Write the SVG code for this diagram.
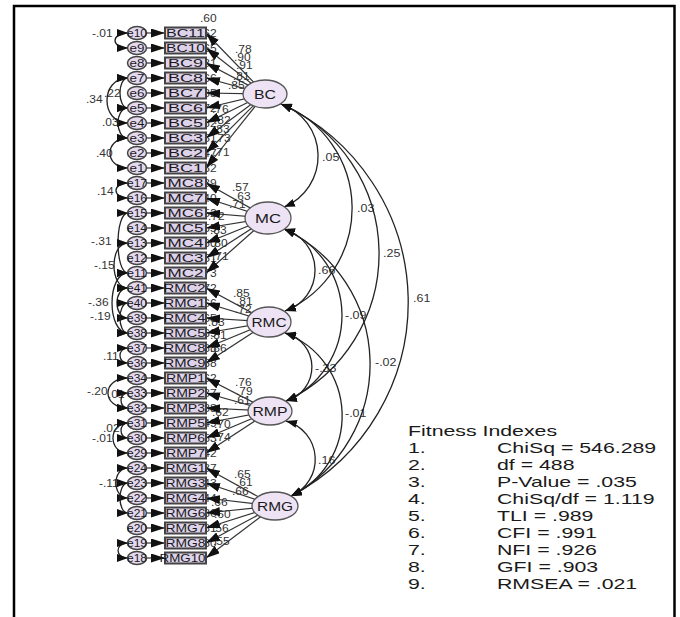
<svg xmlns="http://www.w3.org/2000/svg" width="680" height="617" viewBox="0 0 680 617">
<defs>
<style>
text{font-family:"Liberation Sans",Arial,sans-serif;fill:#1a1a1a}
.ind rect{fill:#ded3ea;stroke:#444;stroke-width:2}
.ind text{font-size:11px;text-anchor:middle}
.err ellipse{fill:#e4d9ef;stroke:#444;stroke-width:1.5}
.err text{font-size:11px;text-anchor:middle}
.lat ellipse{fill:#ede3f4;stroke:#555;stroke-width:1.3}
.lat text{font-size:13.5px;text-anchor:middle}
.num text{font-size:10px;fill:#333}
.fit text{font-size:15px;fill:#1a1a1a}
.ln line{stroke:#333;stroke-width:1.2;marker-end:url(#ah)}
.cv path{fill:none;stroke:#222;stroke-width:1.3;marker-start:url(#ah2);marker-end:url(#ah2)}
</style>
<marker id="ah" markerUnits="userSpaceOnUse" markerWidth="14" markerHeight="9" refX="14" refY="4.5" orient="auto"><path d="M0,0 L14,4.5 L0,9 z" fill="#111"/></marker>
<marker id="ah2" markerUnits="userSpaceOnUse" markerWidth="11" markerHeight="8" refX="11" refY="4" orient="auto-start-reverse"><path d="M0,0 L11,4 L0,8 z" fill="#111"/></marker>
</defs>
<rect width="680" height="617" fill="#fff"/>
<g id="frame" fill="none" stroke="#000" stroke-width="2.5"><path d="M14,617 V6 H674.5 V617"/></g>

<g id="r2-labels" class="num">
<text transform="matrix(1.2 0 0 1 200 22)">.60</text>
<text transform="matrix(1.2 0 0 1 200 37)">.62</text>
<text transform="matrix(1.2 0 0 1 200 52)">.65</text>
<text transform="matrix(1.2 0 0 1 200 67)">.81</text>
<text transform="matrix(1.2 0 0 1 200 82)">.66</text>
<text transform="matrix(1.2 0 0 1 200 97)">.85</text>
<text transform="matrix(1.2 0 0 1 200 112)">.72</text>
<text transform="matrix(1.2 0 0 1 200 127)">.82</text>
<text transform="matrix(1.2 0 0 1 200 142)">.51</text>
<text transform="matrix(1.2 0 0 1 200 157)">.47</text>
<text transform="matrix(1.2 0 0 1 200 172)">.32</text>
<text transform="matrix(1.2 0 0 1 200 187)">.39</text>
<text transform="matrix(1.2 0 0 1 200 202)">.40</text>
<text transform="matrix(1.2 0 0 1 200 217)">.52</text>
<text transform="matrix(1.2 0 0 1 200 232)">.55</text>
<text transform="matrix(1.2 0 0 1 200 247)">.60</text>
<text transform="matrix(1.2 0 0 1 200 262)">.51</text>
<text transform="matrix(1.2 0 0 1 200 277)">.73</text>
<text transform="matrix(1.2 0 0 1 200 292)">.72</text>
<text transform="matrix(1.2 0 0 1 200 307)">.66</text>
<text transform="matrix(1.2 0 0 1 200 322)">.65</text>
<text transform="matrix(1.2 0 0 1 200 337)">.69</text>
<text transform="matrix(1.2 0 0 1 200 352)">.68</text>
<text transform="matrix(1.2 0 0 1 200 367)">.58</text>
<text transform="matrix(1.2 0 0 1 200 382)">.62</text>
<text transform="matrix(1.2 0 0 1 200 397)">.37</text>
<text transform="matrix(1.2 0 0 1 200 412)">.38</text>
<text transform="matrix(1.2 0 0 1 200 427)">.49</text>
<text transform="matrix(1.2 0 0 1 200 442)">.53</text>
<text transform="matrix(1.2 0 0 1 200 457)">.42</text>
<text transform="matrix(1.2 0 0 1 200 472)">.37</text>
<text transform="matrix(1.2 0 0 1 200 487)">.43</text>
<text transform="matrix(1.2 0 0 1 200 502)">.44</text>
<text transform="matrix(1.2 0 0 1 200 517)">.36</text>
<text transform="matrix(1.2 0 0 1 200 532)">.31</text>
<text transform="matrix(1.2 0 0 1 200 547)">.30</text>
</g>

<g id="loading-labels" class="num">
<text transform="matrix(1.2 0 0 1 235 53)">.78</text>
<text transform="matrix(1.2 0 0 1 234 61)">.90</text>
<text transform="matrix(1.2 0 0 1 236 69)">.91</text>
<text transform="matrix(1.2 0 0 1 233 80)">.81</text>
<text transform="matrix(1.2 0 0 1 228 89)">.85</text>
<text transform="matrix(1.2 0 0 1 212 113)">.76</text>
<text transform="matrix(1.2 0 0 1 214 124)">.82</text>
<text transform="matrix(1.2 0 0 1 213 133)">.83</text>
<text transform="matrix(1.2 0 0 1 214 142)">.73</text>
<text transform="matrix(1.2 0 0 1 213 156)">.71</text>
<text transform="matrix(1.2 0 0 1 232 191)">.57</text>
<text transform="matrix(1.2 0 0 1 234 200)">.63</text>
<text transform="matrix(1.2 0 0 1 229 208)">.71</text>
<text transform="matrix(1.2 0 0 1 208 220)">.72</text>
<text transform="matrix(1.2 0 0 1 210 234)">.83</text>
<text transform="matrix(1.2 0 0 1 211 247)">.80</text>
<text transform="matrix(1.2 0 0 1 212 260)">.71</text>
<text transform="matrix(1.2 0 0 1 233 297)">.85</text>
<text transform="matrix(1.2 0 0 1 236 305)">.81</text>
<text transform="matrix(1.2 0 0 1 235 313)">.72</text>
<text transform="matrix(1.2 0 0 1 208 326)">.83</text>
<text transform="matrix(1.2 0 0 1 210 339)">.81</text>
<text transform="matrix(1.2 0 0 1 210 352)">.86</text>
<text transform="matrix(1.2 0 0 1 235 386)">.76</text>
<text transform="matrix(1.2 0 0 1 236 395)">.79</text>
<text transform="matrix(1.2 0 0 1 234 404)">.61</text>
<text transform="matrix(1.2 0 0 1 212 416)">.62</text>
<text transform="matrix(1.2 0 0 1 214 428)">.70</text>
<text transform="matrix(1.2 0 0 1 214 441)">.74</text>
<text transform="matrix(1.2 0 0 1 234 478)">.65</text>
<text transform="matrix(1.2 0 0 1 236 486)">.61</text>
<text transform="matrix(1.2 0 0 1 232 495)">.66</text>
<text transform="matrix(1.2 0 0 1 211 506)">.66</text>
<text transform="matrix(1.2 0 0 1 214 518)">.60</text>
<text transform="matrix(1.2 0 0 1 212 532)">.56</text>
<text transform="matrix(1.2 0 0 1 213 545)">.55</text>
</g>

<g id="cov-labels" class="num">
<text transform="matrix(1.2 0 0 1 92 37)">-.01</text>
<text transform="matrix(1.2 0 0 1 104 97)">.22</text>
<text transform="matrix(1.2 0 0 1 86 103)">.34</text>
<text transform="matrix(1.2 0 0 1 102 126)">.03</text>
<text transform="matrix(1.2 0 0 1 96 157)">.40</text>
<text transform="matrix(1.2 0 0 1 97 195)">.14</text>
<text transform="matrix(1.2 0 0 1 91 245)">-.31</text>
<text transform="matrix(1.2 0 0 1 94 269)">-.15</text>
<text transform="matrix(1.2 0 0 1 88 306)">-.36</text>
<text transform="matrix(1.2 0 0 1 90 320)">-.19</text>
<text transform="matrix(1.2 0 0 1 103 360)">.11</text>
<text transform="matrix(1.2 0 0 1 87 395)">-.20</text>
<text transform="matrix(1.2 0 0 1 108 398)">.01</text>
<text transform="matrix(1.2 0 0 1 103 432)">.02</text>
<text transform="matrix(1.2 0 0 1 92 442)">-.01</text>
<text transform="matrix(1.2 0 0 1 99 487)">-.11</text>
<text transform="matrix(1.25 0 0 1 322 161)">.05</text>
<text transform="matrix(1.25 0 0 1 357 212)">.03</text>
<text transform="matrix(1.25 0 0 1 383 257)">.25</text>
<text transform="matrix(1.25 0 0 1 413 302)">.61</text>
<text transform="matrix(1.25 0 0 1 318 274)">.66</text>
<text transform="matrix(1.25 0 0 1 345 319)">-.09</text>
<text transform="matrix(1.25 0 0 1 375 366)">-.02</text>
<text transform="matrix(1.25 0 0 1 315 372)">-.33</text>
<text transform="matrix(1.25 0 0 1 345 417)">-.01</text>
<text transform="matrix(1.25 0 0 1 318 464)">.16</text>
</g>

<g id="connectors">
<g class="ln">
<line x1="137" y1="33" x2="165" y2="33"/><line x1="137" y1="48" x2="165" y2="48"/><line x1="137" y1="63" x2="165" y2="63"/><line x1="137" y1="78" x2="165" y2="78"/><line x1="137" y1="93" x2="165" y2="93"/><line x1="137" y1="108" x2="165" y2="108"/><line x1="137" y1="123" x2="165" y2="123"/><line x1="137" y1="138" x2="165" y2="138"/><line x1="137" y1="153" x2="165" y2="153"/><line x1="137" y1="168" x2="165" y2="168"/>
<line x1="137" y1="183" x2="165" y2="183"/><line x1="137" y1="198" x2="165" y2="198"/><line x1="137" y1="213" x2="165" y2="213"/><line x1="137" y1="228" x2="165" y2="228"/><line x1="137" y1="243" x2="165" y2="243"/><line x1="137" y1="258" x2="165" y2="258"/><line x1="137" y1="273" x2="165" y2="273"/>
<line x1="137" y1="288" x2="165" y2="288"/><line x1="137" y1="303" x2="165" y2="303"/><line x1="137" y1="318" x2="165" y2="318"/><line x1="137" y1="333" x2="165" y2="333"/><line x1="137" y1="348" x2="165" y2="348"/><line x1="137" y1="363" x2="165" y2="363"/>
<line x1="137" y1="378" x2="165" y2="378"/><line x1="137" y1="393" x2="165" y2="393"/><line x1="137" y1="408" x2="165" y2="408"/><line x1="137" y1="423" x2="165" y2="423"/><line x1="137" y1="438" x2="165" y2="438"/><line x1="137" y1="453" x2="165" y2="453"/>
<line x1="137" y1="468" x2="165" y2="468"/><line x1="137" y1="483" x2="165" y2="483"/><line x1="137" y1="498" x2="165" y2="498"/><line x1="137" y1="513" x2="165" y2="513"/><line x1="137" y1="528" x2="165" y2="528"/><line x1="137" y1="543" x2="165" y2="543"/><line x1="137" y1="558" x2="165" y2="558"/>

<line x1="265" y1="94" x2="206" y2="33"/><line x1="265" y1="94" x2="206" y2="48"/><line x1="265" y1="94" x2="206" y2="63"/><line x1="265" y1="94" x2="206" y2="78"/><line x1="265" y1="94" x2="206" y2="93"/><line x1="265" y1="94" x2="206" y2="108"/><line x1="265" y1="94" x2="206" y2="123"/><line x1="265" y1="94" x2="206" y2="138"/><line x1="265" y1="94" x2="206" y2="153"/><line x1="265" y1="94" x2="206" y2="168"/>
<line x1="268" y1="218" x2="206" y2="183"/><line x1="268" y1="218" x2="206" y2="198"/><line x1="268" y1="218" x2="206" y2="213"/><line x1="268" y1="218" x2="206" y2="228"/><line x1="268" y1="218" x2="206" y2="243"/><line x1="268" y1="218" x2="206" y2="258"/><line x1="268" y1="218" x2="206" y2="273"/>
<line x1="269" y1="322" x2="206" y2="288"/><line x1="269" y1="322" x2="206" y2="303"/><line x1="269" y1="322" x2="206" y2="318"/><line x1="269" y1="322" x2="206" y2="333"/><line x1="269" y1="322" x2="206" y2="348"/><line x1="269" y1="322" x2="206" y2="363"/>
<line x1="270" y1="411" x2="206" y2="378"/><line x1="270" y1="411" x2="206" y2="393"/><line x1="270" y1="411" x2="206" y2="408"/><line x1="270" y1="411" x2="206" y2="423"/><line x1="270" y1="411" x2="206" y2="438"/><line x1="270" y1="411" x2="206" y2="453"/>
<line x1="275" y1="506" x2="206" y2="468"/><line x1="275" y1="506" x2="206" y2="483"/><line x1="275" y1="506" x2="206" y2="498"/><line x1="275" y1="506" x2="206" y2="513"/><line x1="275" y1="506" x2="206" y2="528"/><line x1="275" y1="506" x2="206" y2="543"/><line x1="275" y1="506" x2="206" y2="558"/>
</g>
<g class="cv">
<path d="M128,33 C110.7,33 110.7,48 128,48"/>
<path d="M128,78 C117.3,78 117.3,108 128,108"/>
<path d="M128,78 C100,78 100,123 128,123"/>
<path d="M128,108 C114.7,108 114.7,138 128,138"/>
<path d="M128,138 C104,138 104,168 128,168"/>
<path d="M128,183 C112,183 112,198 128,198"/>
<path d="M128,213 C114.7,213 114.7,273 128,273"/>
<path d="M128,243 C109.3,243 109.3,288 128,288"/>
<path d="M128,273 C106.7,273 106.7,333 128,333"/>
<path d="M128,288 C113.3,288 113.3,318 128,318"/>
<path d="M128,303 C117.3,303 117.3,333 128,333"/>
<path d="M128,348 C117.3,348 117.3,363 128,363"/>
<path d="M128,378 C101.3,378 101.3,408 128,408"/>
<path d="M128,393 C118.7,393 118.7,408 128,408"/>
<path d="M128,423 C118.7,423 118.7,438 128,438"/>
<path d="M128,423 C108,423 108,453 128,453"/>
<path d="M128,468 C112,468 112,498 128,498"/>
<path d="M128,483 C117.3,483 117.3,513 128,513"/>
<path d="M128,543 C114.7,543 114.7,558 128,558"/>

<path d="M281,104 A55.1,55.1 0 0 1 284,207"/>
<path d="M281,104 A112.1,112.1 0 0 1 285,311"/>
<path d="M281,104 A163.2,163.2 0 0 1 286,401"/>
<path d="M281,104 A218.4,218.4 0 0 1 291,496"/>
<path d="M284,229 A42.8,42.8 0 0 1 285,311"/>
<path d="M284,229 A93.4,93.4 0 0 1 286,401"/>
<path d="M284,229 A149.3,149.3 0 0 1 291,496"/>
<path d="M285,333 A35.1,35.1 0 0 1 286,401"/>
<path d="M285,333 A88.5,88.5 0 0 1 291,496"/>
<path d="M286,421 A39.8,39.8 0 0 1 291,496"/>
</g>
</g>

<g id="errors" class="err">
<g id="e10"><ellipse cx="137" cy="33" rx="9.5" ry="6.5"/><text x="137" y="37" textLength="20" lengthAdjust="spacingAndGlyphs">e10</text></g>
<g id="e9"><ellipse cx="137" cy="48" rx="9.5" ry="6.5"/><text x="137" y="52" textLength="15" lengthAdjust="spacingAndGlyphs">e9</text></g>
<g id="e8"><ellipse cx="137" cy="63" rx="9.5" ry="6.5"/><text x="137" y="67" textLength="15" lengthAdjust="spacingAndGlyphs">e8</text></g>
<g id="e7"><ellipse cx="137" cy="78" rx="9.5" ry="6.5"/><text x="137" y="82" textLength="15" lengthAdjust="spacingAndGlyphs">e7</text></g>
<g id="e6"><ellipse cx="137" cy="93" rx="9.5" ry="6.5"/><text x="137" y="97" textLength="15" lengthAdjust="spacingAndGlyphs">e6</text></g>
<g id="e5"><ellipse cx="137" cy="108" rx="9.5" ry="6.5"/><text x="137" y="112" textLength="15" lengthAdjust="spacingAndGlyphs">e5</text></g>
<g id="e4"><ellipse cx="137" cy="123" rx="9.5" ry="6.5"/><text x="137" y="127" textLength="15" lengthAdjust="spacingAndGlyphs">e4</text></g>
<g id="e3"><ellipse cx="137" cy="138" rx="9.5" ry="6.5"/><text x="137" y="142" textLength="15" lengthAdjust="spacingAndGlyphs">e3</text></g>
<g id="e2"><ellipse cx="137" cy="153" rx="9.5" ry="6.5"/><text x="137" y="157" textLength="15" lengthAdjust="spacingAndGlyphs">e2</text></g>
<g id="e1"><ellipse cx="137" cy="168" rx="9.5" ry="6.5"/><text x="137" y="172" textLength="15" lengthAdjust="spacingAndGlyphs">e1</text></g>
<g id="e17"><ellipse cx="137" cy="183" rx="9.5" ry="6.5"/><text x="137" y="187" textLength="20" lengthAdjust="spacingAndGlyphs">e17</text></g>
<g id="e16"><ellipse cx="137" cy="198" rx="9.5" ry="6.5"/><text x="137" y="202" textLength="20" lengthAdjust="spacingAndGlyphs">e16</text></g>
<g id="e15"><ellipse cx="137" cy="213" rx="9.5" ry="6.5"/><text x="137" y="217" textLength="20" lengthAdjust="spacingAndGlyphs">e15</text></g>
<g id="e14"><ellipse cx="137" cy="228" rx="9.5" ry="6.5"/><text x="137" y="232" textLength="20" lengthAdjust="spacingAndGlyphs">e14</text></g>
<g id="e13"><ellipse cx="137" cy="243" rx="9.5" ry="6.5"/><text x="137" y="247" textLength="20" lengthAdjust="spacingAndGlyphs">e13</text></g>
<g id="e12"><ellipse cx="137" cy="258" rx="9.5" ry="6.5"/><text x="137" y="262" textLength="20" lengthAdjust="spacingAndGlyphs">e12</text></g>
<g id="e11"><ellipse cx="137" cy="273" rx="9.5" ry="6.5"/><text x="137" y="277" textLength="20" lengthAdjust="spacingAndGlyphs">e11</text></g>
<g id="e41"><ellipse cx="137" cy="288" rx="9.5" ry="6.5"/><text x="137" y="292" textLength="20" lengthAdjust="spacingAndGlyphs">e41</text></g>
<g id="e40"><ellipse cx="137" cy="303" rx="9.5" ry="6.5"/><text x="137" y="307" textLength="20" lengthAdjust="spacingAndGlyphs">e40</text></g>
<g id="e39"><ellipse cx="137" cy="318" rx="9.5" ry="6.5"/><text x="137" y="322" textLength="20" lengthAdjust="spacingAndGlyphs">e39</text></g>
<g id="e38"><ellipse cx="137" cy="333" rx="9.5" ry="6.5"/><text x="137" y="337" textLength="20" lengthAdjust="spacingAndGlyphs">e38</text></g>
<g id="e37"><ellipse cx="137" cy="348" rx="9.5" ry="6.5"/><text x="137" y="352" textLength="20" lengthAdjust="spacingAndGlyphs">e37</text></g>
<g id="e36"><ellipse cx="137" cy="363" rx="9.5" ry="6.5"/><text x="137" y="367" textLength="20" lengthAdjust="spacingAndGlyphs">e36</text></g>
<g id="e34"><ellipse cx="137" cy="378" rx="9.5" ry="6.5"/><text x="137" y="382" textLength="20" lengthAdjust="spacingAndGlyphs">e34</text></g>
<g id="e33"><ellipse cx="137" cy="393" rx="9.5" ry="6.5"/><text x="137" y="397" textLength="20" lengthAdjust="spacingAndGlyphs">e33</text></g>
<g id="e32"><ellipse cx="137" cy="408" rx="9.5" ry="6.5"/><text x="137" y="412" textLength="20" lengthAdjust="spacingAndGlyphs">e32</text></g>
<g id="e31"><ellipse cx="137" cy="423" rx="9.5" ry="6.5"/><text x="137" y="427" textLength="20" lengthAdjust="spacingAndGlyphs">e31</text></g>
<g id="e30"><ellipse cx="137" cy="438" rx="9.5" ry="6.5"/><text x="137" y="442" textLength="20" lengthAdjust="spacingAndGlyphs">e30</text></g>
<g id="e29"><ellipse cx="137" cy="453" rx="9.5" ry="6.5"/><text x="137" y="457" textLength="20" lengthAdjust="spacingAndGlyphs">e29</text></g>
<g id="e24"><ellipse cx="137" cy="468" rx="9.5" ry="6.5"/><text x="137" y="472" textLength="20" lengthAdjust="spacingAndGlyphs">e24</text></g>
<g id="e23"><ellipse cx="137" cy="483" rx="9.5" ry="6.5"/><text x="137" y="487" textLength="20" lengthAdjust="spacingAndGlyphs">e23</text></g>
<g id="e22"><ellipse cx="137" cy="498" rx="9.5" ry="6.5"/><text x="137" y="502" textLength="20" lengthAdjust="spacingAndGlyphs">e22</text></g>
<g id="e21"><ellipse cx="137" cy="513" rx="9.5" ry="6.5"/><text x="137" y="517" textLength="20" lengthAdjust="spacingAndGlyphs">e21</text></g>
<g id="e20"><ellipse cx="137" cy="528" rx="9.5" ry="6.5"/><text x="137" y="532" textLength="20" lengthAdjust="spacingAndGlyphs">e20</text></g>
<g id="e19"><ellipse cx="137" cy="543" rx="9.5" ry="6.5"/><text x="137" y="547" textLength="20" lengthAdjust="spacingAndGlyphs">e19</text></g>
<g id="e18"><ellipse cx="137" cy="558" rx="9.5" ry="6.5"/><text x="137" y="562" textLength="20" lengthAdjust="spacingAndGlyphs">e18</text></g>
</g>

<g id="indicators" class="ind">
<g id="BC11"><rect x="165" y="27.5" width="41" height="11"/><text x="185.5" y="37" textLength="39" lengthAdjust="spacingAndGlyphs">BC11</text></g>
<g id="BC10"><rect x="165" y="42.5" width="41" height="11"/><text x="185.5" y="52" textLength="39" lengthAdjust="spacingAndGlyphs">BC10</text></g>
<g id="BC9"><rect x="165" y="57.5" width="41" height="11"/><text x="185.5" y="67" textLength="35" lengthAdjust="spacingAndGlyphs">BC9</text></g>
<g id="BC8"><rect x="165" y="72.5" width="41" height="11"/><text x="185.5" y="82" textLength="35" lengthAdjust="spacingAndGlyphs">BC8</text></g>
<g id="BC7"><rect x="165" y="87.5" width="41" height="11"/><text x="185.5" y="97" textLength="35" lengthAdjust="spacingAndGlyphs">BC7</text></g>
<g id="BC6"><rect x="165" y="102.5" width="41" height="11"/><text x="185.5" y="112" textLength="35" lengthAdjust="spacingAndGlyphs">BC6</text></g>
<g id="BC5"><rect x="165" y="117.5" width="41" height="11"/><text x="185.5" y="127" textLength="35" lengthAdjust="spacingAndGlyphs">BC5</text></g>
<g id="BC3"><rect x="165" y="132.5" width="41" height="11"/><text x="185.5" y="142" textLength="35" lengthAdjust="spacingAndGlyphs">BC3</text></g>
<g id="BC2"><rect x="165" y="147.5" width="41" height="11"/><text x="185.5" y="157" textLength="35" lengthAdjust="spacingAndGlyphs">BC2</text></g>
<g id="BC1"><rect x="165" y="162.5" width="41" height="11"/><text x="185.5" y="172" textLength="35" lengthAdjust="spacingAndGlyphs">BC1</text></g>
<g id="MC8"><rect x="165" y="177.5" width="41" height="11"/><text x="185.5" y="187" textLength="36" lengthAdjust="spacingAndGlyphs">MC8</text></g>
<g id="MC7"><rect x="165" y="192.5" width="41" height="11"/><text x="185.5" y="202" textLength="36" lengthAdjust="spacingAndGlyphs">MC7</text></g>
<g id="MC6"><rect x="165" y="207.5" width="41" height="11"/><text x="185.5" y="217" textLength="36" lengthAdjust="spacingAndGlyphs">MC6</text></g>
<g id="MC5"><rect x="165" y="222.5" width="41" height="11"/><text x="185.5" y="232" textLength="36" lengthAdjust="spacingAndGlyphs">MC5</text></g>
<g id="MC4"><rect x="165" y="237.5" width="41" height="11"/><text x="185.5" y="247" textLength="36" lengthAdjust="spacingAndGlyphs">MC4</text></g>
<g id="MC3"><rect x="165" y="252.5" width="41" height="11"/><text x="185.5" y="262" textLength="36" lengthAdjust="spacingAndGlyphs">MC3</text></g>
<g id="MC2"><rect x="165" y="267.5" width="41" height="11"/><text x="185.5" y="277" textLength="36" lengthAdjust="spacingAndGlyphs">MC2</text></g>
<g id="RMC2"><rect x="165" y="282.5" width="41" height="11"/><text x="184.5" y="292" textLength="42" lengthAdjust="spacingAndGlyphs">RMC2</text></g>
<g id="RMC1"><rect x="165" y="297.5" width="41" height="11"/><text x="184.5" y="307" textLength="42" lengthAdjust="spacingAndGlyphs">RMC1</text></g>
<g id="RMC4"><rect x="165" y="312.5" width="41" height="11"/><text x="184.5" y="322" textLength="42" lengthAdjust="spacingAndGlyphs">RMC4</text></g>
<g id="RMC5"><rect x="165" y="327.5" width="41" height="11"/><text x="184.5" y="337" textLength="42" lengthAdjust="spacingAndGlyphs">RMC5</text></g>
<g id="RMC8"><rect x="165" y="342.5" width="41" height="11"/><text x="184.5" y="352" textLength="42" lengthAdjust="spacingAndGlyphs">RMC8</text></g>
<g id="RMC9"><rect x="165" y="357.5" width="41" height="11"/><text x="184.5" y="367" textLength="42" lengthAdjust="spacingAndGlyphs">RMC9</text></g>
<g id="RMP1"><rect x="165" y="372.5" width="41" height="11"/><text x="185.5" y="382" textLength="39" lengthAdjust="spacingAndGlyphs">RMP1</text></g>
<g id="RMP2"><rect x="165" y="387.5" width="41" height="11"/><text x="185.5" y="397" textLength="39" lengthAdjust="spacingAndGlyphs">RMP2</text></g>
<g id="RMP3"><rect x="165" y="402.5" width="41" height="11"/><text x="185.5" y="412" textLength="39" lengthAdjust="spacingAndGlyphs">RMP3</text></g>
<g id="RMP5"><rect x="165" y="417.5" width="41" height="11"/><text x="185.5" y="427" textLength="39" lengthAdjust="spacingAndGlyphs">RMP5</text></g>
<g id="RMP6"><rect x="165" y="432.5" width="41" height="11"/><text x="185.5" y="442" textLength="39" lengthAdjust="spacingAndGlyphs">RMP6</text></g>
<g id="RMP7"><rect x="165" y="447.5" width="41" height="11"/><text x="185.5" y="457" textLength="39" lengthAdjust="spacingAndGlyphs">RMP7</text></g>
<g id="RMG1"><rect x="165" y="462.5" width="41" height="11"/><text x="185.5" y="472" textLength="40" lengthAdjust="spacingAndGlyphs">RMG1</text></g>
<g id="RMG3"><rect x="165" y="477.5" width="41" height="11"/><text x="185.5" y="487" textLength="40" lengthAdjust="spacingAndGlyphs">RMG3</text></g>
<g id="RMG4"><rect x="165" y="492.5" width="41" height="11"/><text x="185.5" y="502" textLength="40" lengthAdjust="spacingAndGlyphs">RMG4</text></g>
<g id="RMG6"><rect x="165" y="507.5" width="41" height="11"/><text x="185.5" y="517" textLength="40" lengthAdjust="spacingAndGlyphs">RMG6</text></g>
<g id="RMG7"><rect x="165" y="522.5" width="41" height="11"/><text x="185.5" y="532" textLength="40" lengthAdjust="spacingAndGlyphs">RMG7</text></g>
<g id="RMG8"><rect x="165" y="537.5" width="41" height="11"/><text x="185.5" y="547" textLength="40" lengthAdjust="spacingAndGlyphs">RMG8</text></g>
<g id="RMG10"><rect x="165" y="552.5" width="41" height="11"/><text x="182.5" y="562" textLength="46" lengthAdjust="spacingAndGlyphs">RMG10</text></g>
</g>

<g id="latents" class="lat">
<g id="BC"><ellipse cx="265" cy="94" rx="22" ry="14"/><text x="265" y="99" textLength="22" lengthAdjust="spacingAndGlyphs">BC</text></g>
<g id="MC"><ellipse cx="268" cy="218" rx="23" ry="16"/><text x="268" y="223" textLength="26" lengthAdjust="spacingAndGlyphs">MC</text></g>
<g id="RMC"><ellipse cx="269" cy="322" rx="22" ry="15"/><text x="269" y="327" textLength="35" lengthAdjust="spacingAndGlyphs">RMC</text></g>
<g id="RMP"><ellipse cx="270" cy="411" rx="22" ry="14"/><text x="270" y="416" textLength="35" lengthAdjust="spacingAndGlyphs">RMP</text></g>
<g id="RMG"><ellipse cx="275" cy="506" rx="23" ry="14"/><text x="275" y="511" textLength="36" lengthAdjust="spacingAndGlyphs">RMG</text></g>
</g>

<g id="fitness" class="fit">
<text transform="matrix(1.42 0 0 1 408 436)">Fitness Indexes</text>
<text transform="matrix(1.42 0 0 1 408 453)">1.</text><text transform="matrix(1.42 0 0 1 497 453)">ChiSq = 546.289</text>
<text transform="matrix(1.42 0 0 1 408 470)">2.</text><text transform="matrix(1.42 0 0 1 497 470)">df = 488</text>
<text transform="matrix(1.42 0 0 1 408 487)">3.</text><text transform="matrix(1.42 0 0 1 497 487)">P-Value = .035</text>
<text transform="matrix(1.42 0 0 1 408 504)">4.</text><text transform="matrix(1.42 0 0 1 497 504)">ChiSq/df = 1.119</text>
<text transform="matrix(1.42 0 0 1 408 521)">5.</text><text transform="matrix(1.42 0 0 1 497 521)">TLI = .989</text>
<text transform="matrix(1.42 0 0 1 408 538)">6.</text><text transform="matrix(1.42 0 0 1 497 538)">CFI = .991</text>
<text transform="matrix(1.42 0 0 1 408 555)">7.</text><text transform="matrix(1.42 0 0 1 497 555)">NFI = .926</text>
<text transform="matrix(1.42 0 0 1 408 572)">8.</text><text transform="matrix(1.42 0 0 1 497 572)">GFI = .903</text>
<text transform="matrix(1.42 0 0 1 408 589)">9.</text><text transform="matrix(1.42 0 0 1 497 589)">RMSEA = .021</text>
</g>
</svg>
